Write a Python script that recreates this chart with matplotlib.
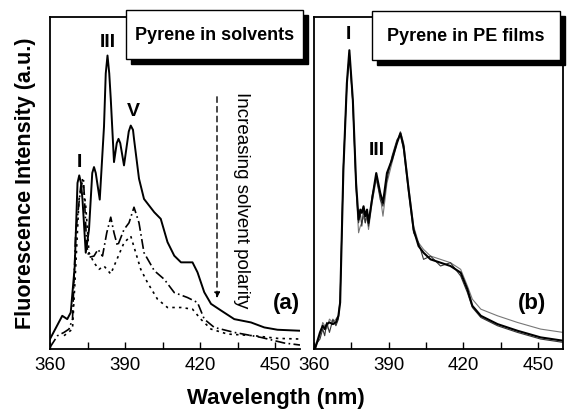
import matplotlib
matplotlib.use("Agg")
import matplotlib.pyplot as plt
from matplotlib.patches import Rectangle

plt.rcParams['font.family'] = ['Liberation Sans', 'DejaVu Sans']

# panel (a): pyrene in solvents (wavelength nm, intensity a.u.)
wl_solid = [360, 364.9, 366.9, 368.3, 369.9, 371.0, 371.7, 372.4, 373.0, 374.3, 375.6,
            376.9, 377.6, 378.3, 379.9, 381.6, 382.3, 383.0, 383.7, 384.3, 385.6, 386.7,
            387.4, 388.1, 389.6, 391.5, 392.3, 393.2, 393.6, 395.6, 397.6, 401.7,
            404.3, 407.0, 409.7, 412.4, 417.0, 419.0, 421.7, 424.4, 428.4, 433.7, 440.4,
            445.7, 451.0, 460]
int_solid = [0.03, 0.10, 0.09, 0.11, 0.25, 0.50, 0.523, 0.50, 0.45, 0.29, 0.36,
             0.53, 0.548, 0.53, 0.45, 0.67, 0.83, 0.884, 0.83, 0.754, 0.563, 0.62,
             0.633, 0.62, 0.553, 0.655, 0.673, 0.66, 0.633, 0.513, 0.452, 0.412,
             0.392, 0.322, 0.281, 0.261, 0.261, 0.231, 0.171, 0.136, 0.116, 0.09, 0.08,
             0.065, 0.058, 0.055]

wl_dashdot = [360, 363.0, 365.6, 367.6, 369.0, 370.3, 372.3, 373.4, 374.7, 375.6, 377.6,
              379.2, 381.0, 382.7, 384.3, 385.6, 387.0, 389.6, 391.6, 393.6, 395.6, 397.6,
              401.7, 405.7, 409.7, 415.0, 419.0, 421.7, 425.7, 433.7, 444.4, 453.7, 460]
int_dashdot = [0.005, 0.04, 0.05, 0.06, 0.09, 0.35, 0.49, 0.51, 0.31, 0.276, 0.28,
               0.30, 0.28, 0.35, 0.397, 0.35, 0.31, 0.36, 0.38, 0.427, 0.38, 0.29,
               0.236, 0.21, 0.17, 0.155, 0.14, 0.09, 0.065, 0.05, 0.035, 0.018, 0.012]

wl_dotted = [365.6, 369.0, 370.3, 371.6, 373.0, 374.3, 375.6, 377.6, 379.6, 381.6, 384.3,
             386.2, 389.6, 392.3, 394.3, 396.3, 399.0, 403.0, 407.0, 412.4, 417.0, 420.3,
             424.4, 431.0, 441.7, 451.0, 460]
int_dotted = [0.04, 0.06, 0.25, 0.45, 0.51, 0.43, 0.29, 0.26, 0.24, 0.25, 0.226,
              0.26, 0.32, 0.34, 0.29, 0.24, 0.20, 0.15, 0.125, 0.125, 0.12, 0.09,
              0.06, 0.045, 0.04, 0.032, 0.03]

# panel (b): pyrene in PE films
wl_film = [360.4, 362.4, 363.5, 364.3, 365.1, 366.2, 367.6, 368.8, 369.8, 370.5, 371.8,
           373.2, 374.2, 375.6, 376.9, 377.9, 378.6, 379.2, 379.9, 380.6, 381.3, 381.9,
           383.3, 385.0, 386.6, 387.7, 389.3, 391.3, 393.3, 394.7, 396.0, 398.0, 400.0,
           402.0, 404.0, 406.8, 410.8, 414.8, 418.9, 421.6, 423.6, 427.0, 433.7, 441.7,
           451.0, 460]
int_film1 = [0.0, 0.05, 0.07, 0.06, 0.075, 0.08, 0.075, 0.08, 0.10, 0.14, 0.54,
             0.80, 0.90, 0.75, 0.50, 0.39, 0.42, 0.41, 0.43, 0.40, 0.42, 0.38,
             0.45, 0.53, 0.47, 0.44, 0.53, 0.57, 0.62, 0.65, 0.61, 0.48, 0.36,
             0.31, 0.29, 0.27, 0.26, 0.25, 0.23, 0.18, 0.13, 0.10, 0.075, 0.055,
             0.035, 0.025]
int_film2 = [0.01, 0.03, 0.06, 0.04, 0.08, 0.05, 0.09, 0.07, 0.09, 0.15, 0.55,
             0.80, 0.89, 0.74, 0.49, 0.38, 0.41, 0.37, 0.42, 0.38, 0.41, 0.37,
             0.46, 0.52, 0.45, 0.43, 0.51, 0.58, 0.63, 0.645, 0.60, 0.47, 0.35,
             0.32, 0.27, 0.28, 0.25, 0.26, 0.22, 0.17, 0.125, 0.095, 0.07, 0.05,
             0.03, 0.02]
int_film3 = [0.0, 0.04, 0.08, 0.07, 0.06, 0.09, 0.08, 0.09, 0.10, 0.15, 0.55,
             0.79, 0.89, 0.74, 0.48, 0.35, 0.37, 0.38, 0.40, 0.38, 0.40, 0.36,
             0.44, 0.51, 0.46, 0.40, 0.50, 0.56, 0.62, 0.655, 0.62, 0.49, 0.37,
             0.32, 0.30, 0.28, 0.27, 0.26, 0.24, 0.19, 0.15, 0.12, 0.10, 0.08,
             0.06, 0.05]

W, H = 574, 414
fig = plt.figure(figsize=(W / 100, H / 100), dpi=100)


def fig_rect(x0, y0, x1, y1):
    # pixel box (top-left origin) -> figure fraction rect
    return [x0 / W, 1 - y1 / H, (x1 - x0) / W, (y1 - y0) / H]


ax_a = fig.add_axes(fig_rect(50, 18, 300, 350))
ax_b = fig.add_axes(fig_rect(314, 18, 563, 350))

ax_a.plot(wl_solid, int_solid, color='black', lw=1.4)
ax_a.plot(wl_dashdot, int_dashdot, color='black', lw=1.2, linestyle=(0, (6, 2, 1, 2)))
ax_a.plot(wl_dotted, int_dotted, color='black', lw=1.2, linestyle=(0, (1.5, 2.5)))

ax_b.plot(wl_film, int_film3, color='#777777', lw=0.8)
ax_b.plot(wl_film, int_film2, color='#333333', lw=0.8)
ax_b.plot(wl_film, int_film1, color='black', lw=1.5)

for ax in (ax_a, ax_b):
    ax.set_xlim(360, 460)
    ax.set_ylim(0, 1)
    ax.set_xticks([360, 390, 420, 450])
    ax.set_xticks([375, 405, 435], minor=True)
    ax.set_yticks([])
    ax.tick_params(axis='x', which='both', direction='in', length=5, width=1.0,
                   labelsize=13.5, pad=5)
    for s in ax.spines.values():
        s.set_linewidth(1.3)
    ax.patch.set_alpha(0)

ax_a.spines['right'].set_visible(False)

bold = dict(fontweight='bold', ha='center', va='center')
ax_a.text(383.2, 0.925, 'III', fontsize=14, **bold)
ax_a.text(393.2, 0.717, 'V', fontsize=14, **bold)
ax_a.text(371.6, 0.566, 'I', fontsize=14, **bold)
ax_a.text(454.5, 0.139, '(a)', fontsize=16, **bold)
ax_a.annotate('', xy=(426.8, 0.145), xytext=(426.8, 0.768),
              arrowprops=dict(arrowstyle='-|>', linestyle=(0, (4, 3)), lw=1.0,
                              color='black', mutation_scale=8))
ax_a.text(436.5, 0.452, 'Increasing solvent polarity', rotation=270, fontsize=13.5,
          ha='center', va='center')

ax_b.text(374.0, 0.949, 'I', fontsize=14, **bold)
ax_b.text(385.3, 0.602, 'III', fontsize=14, **bold)
ax_b.text(447.6, 0.14, '(b)', fontsize=16, **bold)


def add_box(x0, y0, x1, y1, label):
    sh = 5
    fig.add_artist(Rectangle(((x0 + sh) / W, 1 - (y1 + sh) / H), (x1 - x0) / W, (y1 - y0) / H,
                             transform=fig.transFigure, facecolor='black', edgecolor='black',
                             zorder=5))
    fig.add_artist(Rectangle((x0 / W, 1 - y1 / H), (x1 - x0) / W, (y1 - y0) / H,
                             transform=fig.transFigure, facecolor='white', edgecolor='black',
                             lw=1.0, zorder=6))
    fig.text((x0 + x1) / 2 / W, 1 - (y0 + y1) / 2 / H, label, fontsize=13,
             fontweight='bold', ha='center', va='center', zorder=7)


add_box(126, 11, 303, 60, 'Pyrene in solvents')
add_box(372, 12, 560, 61, 'Pyrene in PE films')

fig.text(26 / W, 1 - 183 / H, 'Fluorescence Intensity (a.u.)', rotation=90,
         fontsize=15.5, fontweight='bold', ha='center', va='center')
fig.text(276 / W, 1 - 399 / H, 'Wavelength (nm)', fontsize=16, fontweight='bold',
         ha='center', va='center')

fig.savefig('out.png', dpi=100)
